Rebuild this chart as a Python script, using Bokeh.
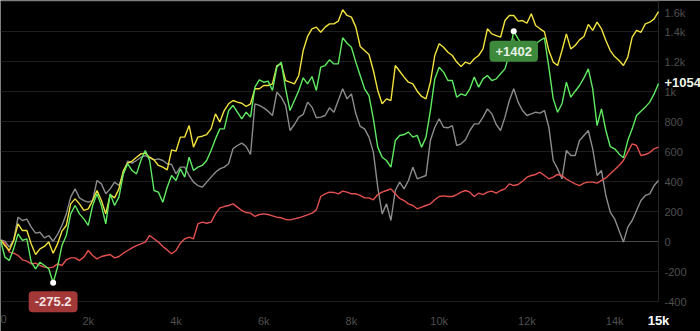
from bokeh.plotting import figure
from bokeh.models import Range1d, Label, ColumnDataSource
from bokeh.core.properties import value
from bokeh.embed import file_html
from bokeh.resources import INLINE

# sample positions (every 100 steps)
steps = list(range(0, 15001, 100))

yellow = [11, -27, -60, 7, 118, 73, 73, -16, -87, -49,
          -33, -4, -78, -16, 69, 107, 251, 284, 251, 207,
          218, 273, 340, 273, 184, 313, 291, 351, 473, 522,
          536, 562, 584, 589, 562, 544, 507, 496, 478, 611,
          602, 696, 696, 773, 629, 696, 702, 713, 751, 851,
          796, 873, 918, 940, 929, 922, 900, 918, 1018, 1018,
          1040, 1040, 1051, 1173, 1184, 1073, 1062, 1051, 1107, 1273,
          1367, 1418, 1429, 1395, 1429, 1451, 1451, 1469, 1545, 1507,
          1496, 1429, 1300, 1273, 1247, 1140, 1007, 918, 951, 940,
          1173, 1135, 1096, 1062, 1051, 1002, 967, 951, 1062, 1240,
          1318, 1295, 1262, 1240, 1196, 1167, 1196, 1184, 1218, 1240,
          1284, 1418, 1384, 1373, 1362, 1473, 1507, 1507, 1469, 1473,
          1455, 1518, 1440, 1418, 1398, 1273, 1196, 1173, 1273, 1384,
          1284, 1307, 1344, 1367, 1447, 1407, 1462, 1418, 1340, 1273,
          1233, 1207, 1173, 1229, 1362, 1407, 1395, 1451, 1462, 1484,
          1533]

green = [11, -104, -127, -49, 51, 7, 18, -138, -182, -138,
         -160, -182, -275.2, -171, -27, 40, 184, 240, 184, 151,
         107, 240, 318, 240, 118, 318, 240, 296, 451, 518,
         473, 451, 540, 607, 540, 340, 329, 262, 362, 440,
         407, 484, 429, 562, 473, 496, 507, 540, 607, 684,
         751, 751, 873, 907, 862, 818, 862, 829, 1029, 1078,
         1062, 1069, 1007, 1162, 1196, 1018, 873, 940, 1007, 1091,
         1051, 1100, 1007, 1162, 1173, 1211, 1184, 1184, 1358, 1322,
         1295, 1196, 1107, 1018, 973, 818, 629, 562, 540, 496,
         673, 707, 713, 729, 696, 707, 629, 696, 873, 1084,
         1162, 1129, 1073, 1073, 962, 984, 973, 1018, 1096, 1029,
         1084, 1107, 1073, 1084, 1118, 1151, 1251, 1402, 1351, 1307,
         1329, 1295, 1318, 1340, 1358, 1162, 951, 862, 918, 1062,
         962, 1002, 1040, 1091, 1151, 1018, 773, 884, 740, 633,
         618, 584, 558, 673, 751, 840, 869, 896, 929, 984,
         1054]

gray = [11, 2, -38, 11, 162, 140, 149, 96, 56, 62,
        24, 40, 2, 47, 107, 184, 296, 351, 291, 273,
        262, 273, 407, 384, 318, 351, 396, 373, 451, 536,
        522, 540, 562, 573, 558, 544, 551, 540, 518, 513,
        451, 496, 496, 440, 396, 373, 362, 396, 429, 462,
        484, 496, 518, 618, 640, 656, 633, 580, 918, 907,
        891, 869, 840, 995, 962, 907, 740, 780, 829, 847,
        929, 896, 825, 829, 840, 891, 862, 940, 1018, 951,
        984, 851, 767, 751, 696, 596, 362, 184, 251, 140,
        340, 396, 351, 407, 496, 418, 429, 440, 673, 762,
        818, 762, 758, 773, 640, 651, 678, 740, 784, 784,
        829, 884, 851, 780, 740, 829, 940, 1018, 929, 873,
        840, 851, 862, 856, 873, 762, 540, 484, 418, 607,
        573, 573, 673, 707, 740, 618, 440, 473, 307, 196,
        151, 73, -4, 96, 140, 207, 273, 307, 318, 373,
        407]

red = [7, -11, -71, -78, -93, -122, -131, -149, -144, -160,
       -171, -176, -171, -149, -160, -122, -109, -109, -127, -104,
       -60, -93, -116, -100, -93, -87, -109, -100, -78, -60,
       -42, -27, -16, -4, 40, 18, -4, -33, -56, -82,
       -60, -11, 18, 29, 18, 118, 129, 122, 129, 184,
       224, 233, 240, 251, 229, 207, 193, 189, 167, 180,
       184, 180, 171, 162, 158, 147, 144, 151, 158, 167,
       178, 189, 211, 300, 318, 329, 327, 318, 336, 329,
       318, 318, 307, 291, 291, 278, 313, 329, 340, 351,
       318, 287, 273, 251, 240, 218, 229, 240, 251, 278,
       300, 304, 300, 300, 313, 329, 340, 329, 300, 322,
       313, 329, 336, 322, 340, 351, 384, 373, 380, 402,
       429, 440, 447, 462, 440, 418, 429, 447, 440, 416,
       400, 384, 373, 389, 396, 396, 389, 407, 424, 451,
       478, 507, 540, 596, 651, 640, 573, 580, 593, 618,
       629]

y_ticks = [-400, -200, 0, 200, 400, 600, 800, 1000, 1200, 1400, 1600]
y_tick_labels = ["-400", "-200", "0", "200", "400", "600", "800", "1k", "1.2k", "1.4k", "1.6k"]
x_ticks = [0, 2000, 4000, 6000, 8000, 10000, 12000, 14000]
x_tick_labels = ["0", "2k", "4k", "6k", "8k", "10k", "12k", "14k"]
x_end, y_min, y_max = 15000, -400, 1600

FONT = "Liberation Sans"
BG = "#000000"
GRID = "#1e1e1e"
TICK = "#4f4f4f"

# plot area is 658 x 300 px inside a 700 x 331 canvas; the ranges are widened so that
# the side margins (for the value/step labels) are part of the drawing area
px_per_x = x_end / 658.0
px_per_y = (y_max - y_min) / 300.0
p = figure(width=700, height=331, output_backend="svg", toolbar_location=None,
           x_range=Range1d(0, x_end + 42 * px_per_x),
           y_range=Range1d(y_min - 30 * px_per_y, y_max + 1 * px_per_y),
           min_border=0, background_fill_color=BG, border_fill_color=BG,
           outline_line_color=None, x_axis_location=None, y_axis_location=None)
p.xgrid.visible = False
p.ygrid.visible = False

# horizontal grid lines
p.segment(x0=[0] * len(y_ticks), x1=[x_end] * len(y_ticks), y0=y_ticks, y1=y_ticks,
          line_color=[("#474747" if t == 0 else GRID) for t in y_ticks], line_width=1)
# right edge of plot area
p.segment(x0=[x_end], x1=[x_end], y0=[y_min], y1=[y_max + 1 * px_per_y],
          line_color="#262626", line_width=1)

# y tick labels (right side)
p.text(x=[x_end] * len(y_ticks), y=y_ticks, text=y_tick_labels,
       x_offset=6, y_offset=[(11 if t == y_max else 0) for t in y_ticks],
       text_align="left", text_baseline="middle", text_color=TICK,
       text_font=value(FONT), text_font_size="11px")
# x tick labels (bottom)
p.text(x=x_ticks, y=[y_min] * len(x_ticks), text=x_tick_labels,
       y_offset=13, text_align=[("left" if t == 0 else "center") for t in x_ticks],
       text_baseline="top", text_color=TICK, text_font=value(FONT), text_font_size="11px")
p.text(x=[x_end], y=[y_min], text=["15k"], y_offset=11, text_align="center",
       text_baseline="top", text_color="#ffffff", text_font=value(FONT),
       text_font_style="bold", text_font_size="13px")

src = ColumnDataSource(dict(x=steps, yellow=yellow, green=green, gray=gray, red=red))
p.line("x", "gray", source=src, line_color="#8c8c8c", line_width=1.4)
p.line("x", "red", source=src, line_color="#e4504f", line_width=1.4)
p.line("x", "yellow", source=src, line_color="#f2e23e", line_width=1.4)
p.line("x", "green", source=src, line_color="#5fea62", line_width=1.4)

i_min = min(range(len(green)), key=lambda i: green[i])
i_max = max(range(len(green)), key=lambda i: green[i])


def fmt(v):
    return ("%.1f" % v).rstrip("0").rstrip(".")


# little pointers of the value badges
p.text(x=[steps[i_min], steps[i_max]], y=[green[i_min], green[i_max]], text=["▲", "▲"],
       y_offset=[10, 9], text_align="center", text_baseline="middle",
       text_color=["#a33838", "#3d8a3d"], text_font=value("DejaVu Sans"), text_font_size="9px")

p.scatter([steps[i_min], steps[i_max]], [green[i_min], green[i_max]],
          size=6, fill_color="white", line_color=None)

p.add_layout(Label(x=steps[i_min], y=green[i_min], text=fmt(green[i_min]),
                   x_offset=0, y_offset=-19, text_align="center", text_baseline="middle",
                   text_color="#f4e4e4", text_font=FONT, text_font_style="bold",
                   text_font_size="13px", background_fill_color="#a33838",
                   padding=6, border_radius=4))
p.add_layout(Label(x=steps[i_max], y=green[i_max], text="+" + fmt(green[i_max]),
                   x_offset=0, y_offset=-20, text_align="center", text_baseline="middle",
                   text_color="#e6f2e2", text_font=FONT, text_font_style="bold",
                   text_font_size="13px", background_fill_color="#3d8a3d",
                   padding=6, border_radius=4))
p.add_layout(Label(x=steps[-1], y=green[-1], text="+" + fmt(green[-1]),
                   x_offset=6, y_offset=1, text_align="left", text_baseline="middle",
                   text_color="#eef6e6", text_font=FONT, text_font_style="bold",
                   text_font_size="13px"))

open("out.html", "w").write(file_html(p, INLINE))
